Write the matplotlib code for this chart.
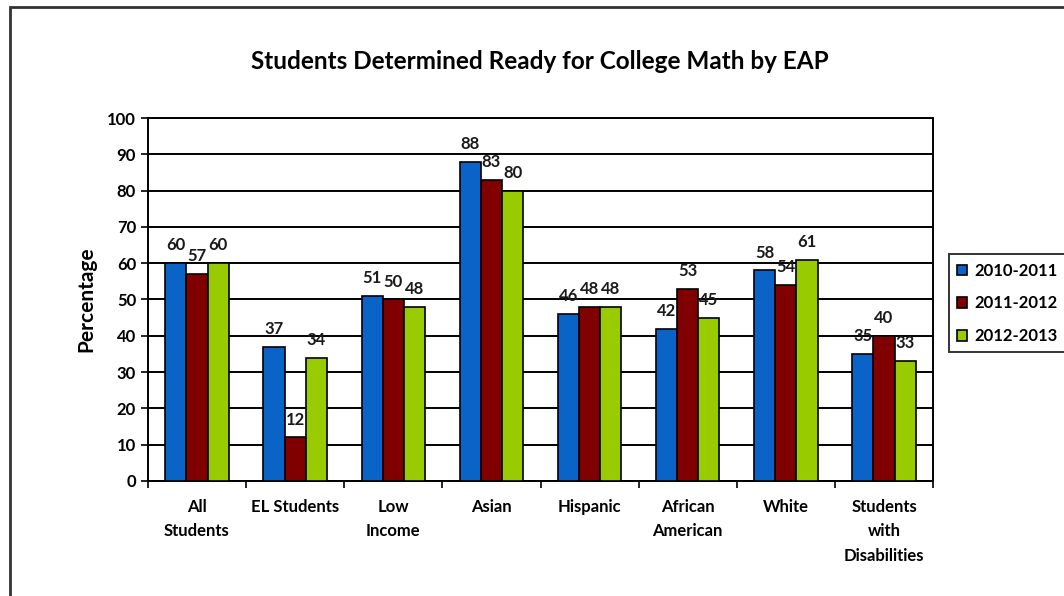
import matplotlib.pyplot as plt
import numpy as np
from matplotlib.patches import Rectangle

categories = ["All\nStudents", "EL Students", "Low\nIncome", "Asian", "Hispanic",
              "African\nAmerican", "White", "Students\nwith\nDisabilities"]
years = ["2010-2011", "2011-2012", "2012-2013"]
v_2010 = [60, 37, 51, 88, 46, 42, 58, 35]
v_2011 = [57, 12, 50, 83, 48, 53, 54, 40]
v_2012 = [60, 34, 48, 80, 48, 45, 61, 33]
colors = ["#0a64c8", "#800000", "#99cc00"]

plt.rcParams['font.family'] = ['Lato', 'DejaVu Sans']
plt.rcParams['font.weight'] = 'bold'

fig = plt.figure(figsize=(10.64, 5.96), dpi=100)
ax = fig.add_axes([0.139, 0.193, 0.738, 0.609])

x = np.arange(len(categories))
w = 0.215
for i, (vals, lab) in enumerate(zip([v_2010, v_2011, v_2012], years)):
    bars = ax.bar(x + (i - 1) * w, vals, w, color=colors[i], edgecolor='black',
                  linewidth=1.2, label=lab, zorder=3)
    ax.bar_label(bars, padding=7, fontsize=12, fontweight='bold', color='#1a1a1a')

ax.set_xlim(-0.5, len(categories) - 0.5)
ax.set_ylim(0, 100)
ax.set_yticks(np.arange(0, 101, 10))
ax.yaxis.grid(True, color='black', linewidth=1.4, zorder=0)
ax.set_xticks(x)
ax.set_xticklabels(categories, fontsize=12, fontweight='bold', linespacing=1.65)
ax.tick_params(axis='x', length=0, pad=13)
ax.set_xticks(np.arange(-0.5, len(categories), 1), minor=True)
ax.tick_params(axis='x', which='minor', length=5, width=1.2)
ax.tick_params(axis='y', length=5, width=1.2, labelsize=12)
for t in ax.get_yticklabels():
    t.set_fontweight('bold')
for s in ax.spines.values():
    s.set_linewidth(1.4)
ax.set_ylabel("Percentage", fontsize=15, fontweight='bold', labelpad=8)

fig.text(0.507, 0.896, "Students Determined Ready for College Math by EAP",
         ha='center', va='center', fontsize=17.5, fontweight='bold')

leg = fig.legend(loc='upper left', bbox_to_anchor=(0.884, 0.587), fontsize=12,
                 frameon=True, fancybox=False, edgecolor='black', handlelength=0.6,
                 handleheight=0.6, labelspacing=1.0, borderpad=0.5, handletextpad=0.4)
leg.get_frame().set_linewidth(1.4)

fig.patches.append(Rectangle((0.0094, -0.02), 1.1, 1.008, transform=fig.transFigure,
                             fill=False, edgecolor='#333333', linewidth=2))

fig.savefig("out.png", dpi=100)
